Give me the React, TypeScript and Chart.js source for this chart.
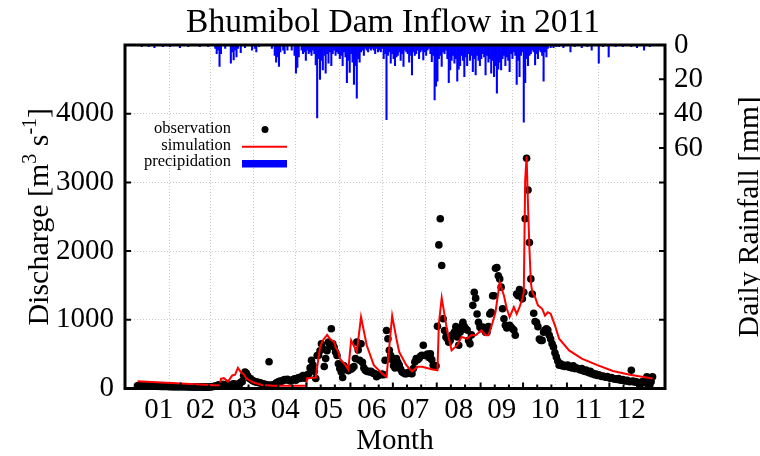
import React, { useEffect, useRef } from 'react';
import { Chart, registerables } from 'chart.js';

Chart.register(...registerables);

const FONT = "'Liberation Serif', 'Times New Roman', serif";

const titleText = 'Bhumibol Dam Inflow in 2011';
const monthLabels = ['01', '02', '03', '04', '05', '06', '07', '08', '09', '10', '11', '12'];
const monthLengths = [31, 28, 31, 30, 31, 30, 31, 31, 30, 31, 30, 31];
const dischargeTicks = [0, 1000, 2000, 3000, 4000];
const rainTicks = [0, 20, 40, 60];
const legendLabels = ['observation', 'simulation', 'precipidation'];

// Observed daily discharge (m3/s), one value per day of each month
const obsJan = [40, 39, 38, 38, 37, 36, 36, 35, 35, 34, 34, 33, 33, 32, 32, 31, 31, 30, 30, 30, 29, 29, 28, 28, 28, 27, 27, 27, 26, 26, 26];
const obsFeb = [26, 25, 25, 25, 24, 24, 24, 23, 23, 23, 22, 22, 22, 22, 21, 21, 21, 20, 20, 20, 22, 25, 28, 30, 35, 40, 50, 55];
const obsMar = [55, 60, 50, 45, 60, 65, 55, 50, 60, 70, 60, 55, 65, 60, 90, 100, 190, 240, 220, 180, 150, 140, 120, 110, 100, 95, 90, 85, 80, 72, 65];
const obsApr = [60, 55, 50, 390, 50, 45, 50, 60, 80, 90, 100, 110, 105, 120, 130, 125, 135, 120, 110, 115, 130, 140, 120, 150, 160, 145, 170, 190, 150, 180];
const obsMay = [200, 210, 300, 410, 340, 250, 145, 480, 485, 550, 650, 580, 320, 435, 550, 675, 620, 870, 650, 600, 530, 480, 360, 290, 240, 160, 330, 280, 290, 260, 290];
const obsJun = [280, 300, 320, 435, 675, 560, 410, 650, 380, 300, 265, 250, 250, 240, 250, 230, 220, 210, 170, 190, 200, 200, 210, 200, 410, 845, 725, 555, 480, 420];
const obsJul = [330, 300, 435, 380, 340, 280, 240, 230, 215, 215, 230, 240, 220, 215, 290, 385, 435, 420, 435, 470, 485, 630, 480, 485, 500, 450, 505, 420, 340, 330, 330];
const obsAug = [905, 2090, 2470, 1790, 1015, 845, 750, 725, 675, 700, 775, 780, 820, 900, 750, 630, 820, 900, 965, 900, 870, 850, 700, 650, 780, 1210, 1400, 1315, 1085, 965, 895];
const obsSep = [870, 895, 870, 820, 820, 900, 1085, 1110, 1350, 1350, 1750, 1760, 1640, 1595, 1475, 1160, 1015, 920, 880, 900, 920, 895, 870, 850, 775, 1375, 1350, 1440, 1380, 1305];
const obsOct = [1400, 2470, 3350, 2890, 2125, 1595, 1375, 1095, 975, 960, 900, 720, 700, 700, 820, 850, 870, 850, 775, 720, 650, 605, 520, 460, 400, 340, 360, 330, 340, 320, 330];
const obsNov = [340, 310, 320, 300, 330, 290, 300, 290, 280, 270, 290, 260, 250, 270, 240, 230, 250, 215, 220, 200, 210, 190, 200, 185, 175, 180, 170, 165, 175, 160];
const obsDec = [150, 160, 145, 140, 135, 130, 145, 125, 120, 130, 115, 110, 120, 105, 100, 265, 110, 95, 100, 90, 80, 48, 90, 100, 85, 120, 170, 60, 48, 100, 170];

// Simulated discharge: vertices of the polyline (day of year, m3/s)
const simDays = [0, 58, 59, 61, 64, 67, 69, 71, 73, 75, 77, 82, 88, 96, 119, 120, 126, 129, 131, 134, 136, 139, 140, 142, 143, 147, 149, 151, 155, 158, 162, 167, 173, 176, 180, 183, 185, 190, 194, 198, 201, 208, 212, 213, 215, 219, 222, 226, 229, 233, 236, 239, 243, 246, 248, 251, 253, 256, 259, 261, 263, 266, 268, 270, 272, 273, 274, 275, 276, 277, 278, 279, 281, 283, 286, 288, 290, 292, 295, 298, 305, 314, 325, 336, 348, 364];
const simValues = [105, 45, 140, 150, 100, 190, 200, 300, 240, 210, 145, 87, 50, 40, 40, 150, 160, 600, 700, 780, 725, 675, 600, 530, 435, 340, 275, 700, 535, 1040, 630, 340, 215, 170, 1060, 725, 530, 340, 250, 315, 315, 280, 265, 940, 1320, 825, 555, 630, 750, 725, 780, 775, 845, 775, 775, 965, 1110, 1545, 1350, 1160, 1040, 1185, 1085, 1185, 1305, 1400, 3040, 3380, 2660, 2030, 1545, 1400, 1330, 1210, 1160, 1060, 1110, 1090, 920, 725, 555, 435, 340, 255, 200, 145];

// Daily rainfall (day of year, mm) on rainy days
const rainDays = [3, 8, 12, 18, 23, 30, 36, 44, 50, 55, 56, 57, 58, 59, 62, 66, 67, 68, 69, 70, 71, 73, 76, 81, 83, 84, 86, 95, 97, 98, 99, 100, 101, 103, 104, 106, 109, 111, 112, 113, 114, 116, 117, 118, 119, 120, 121, 122, 123, 124, 125, 126, 127, 128, 129, 130, 131, 132, 133, 134, 135, 136, 137, 138, 139, 140, 141, 142, 143, 144, 145, 146, 147, 148, 149, 150, 151, 152, 153, 154, 155, 156, 157, 158, 159, 160, 161, 162, 163, 164, 165, 166, 167, 168, 169, 170, 171, 172, 173, 174, 175, 176, 177, 178, 179, 180, 181, 182, 183, 184, 185, 186, 187, 188, 189, 190, 191, 192, 193, 194, 195, 196, 197, 198, 199, 200, 201, 202, 203, 204, 205, 206, 207, 208, 209, 210, 211, 212, 213, 214, 215, 216, 217, 218, 219, 220, 221, 222, 223, 224, 225, 226, 227, 228, 229, 230, 231, 232, 233, 234, 235, 236, 237, 238, 239, 240, 241, 242, 243, 244, 245, 246, 247, 248, 249, 250, 251, 252, 253, 254, 255, 256, 257, 258, 259, 260, 261, 262, 263, 264, 265, 266, 267, 268, 269, 270, 271, 272, 273, 274, 275, 276, 277, 278, 279, 280, 281, 282, 283, 284, 285, 286, 287, 288, 289, 290, 292, 294, 296, 298, 301, 306, 309, 314, 318, 321, 326, 329, 333, 338, 343, 349, 353, 358, 362];
const rainMm = [1, 1, 1.5, 1, 1, 1.5, 1, 1, 1, 2, 5, 3, 12.5, 5, 2, 10.6, 4, 8.7, 3, 7, 2, 4.5, 1.5, 3, 2, 4, 1, 2, 6, 10, 7, 12.5, 4, 3, 5, 3, 3, 6, 16.4, 13, 7, 3, 5, 4, 9, 3, 5, 4, 6, 3, 5, 11.6, 42.5, 8, 20, 9, 14.5, 6, 16.4, 5, 10.6, 4, 12, 5, 3, 6, 4, 5, 8, 6, 12, 4, 7, 22, 9, 16, 5, 10, 23, 12, 31, 8, 10, 4, 3, 6, 2, 3, 4, 2, 3, 2, 3, 5, 2, 4, 3, 4, 2, 8, 5, 43.5, 6, 4, 10.6, 5, 8, 12, 7, 6, 4, 9, 5, 12.5, 3, 4, 5, 10, 6, 17.4, 4, 6, 5, 3, 8, 4, 3, 8.7, 4, 6, 3, 2, 5, 9.7, 6, 32, 24, 21, 8, 6, 12.5, 4, 5, 3, 8, 22, 14.5, 9, 6, 10.6, 8, 21, 14, 12, 6, 9, 18.4, 7, 12, 5, 9, 6, 15.5, 8, 17.4, 6, 9, 12, 8, 5, 7, 17.4, 6, 10, 8, 16.4, 9, 18.4, 12, 28, 14, 10, 14.5, 8, 6, 12, 7, 9, 15.5, 5, 8, 4, 6, 23, 9, 18.4, 6, 4, 45, 22, 8, 12, 6, 5, 3, 4, 11.6, 5, 8, 3, 4, 6, 21, 4, 7, 2, 1.5, 1.5, 1, 1, 1.5, 4, 1, 1.5, 1, 3, 10.6, 1, 7, 1, 1, 1, 1.5, 3, 1];

const obsAll = [...obsJan, ...obsFeb, ...obsMar, ...obsApr, ...obsMay, ...obsJun, ...obsJul, ...obsAug, ...obsSep, ...obsOct, ...obsNov, ...obsDec];

const monthStarts: number[] = [];
monthLengths.reduce((acc, len) => { monthStarts.push(acc); return acc + len; }, 0);
const boundaryValues = monthStarts.slice(1).map((s) => s - 0.5);
const midValues = monthStarts.map((s, i) => s + monthLengths[i] / 2 - 0.5);
const minorValues: number[] = [];
monthStarts.forEach((s) => { minorValues.push(s + 9.5, s + 19.5); });

export default function App() {
  const canvasRef = useRef<HTMLCanvasElement | null>(null);

  useEffect(() => {
    const canvas = canvasRef.current;
    if (!canvas) return;

    const decor = {
      id: 'decor',
      afterDraw(chart: any) {
        const { ctx, chartArea: a, scales } = chart;
        const y = scales.y;
        const rain = scales.rain;
        const x = scales.x;
        ctx.save();
        // inward ticks
        ctx.strokeStyle = '#000';
        ctx.lineWidth = 2;
        ctx.beginPath();
        dischargeTicks.slice(1).forEach((v) => {
          const py = y.getPixelForValue(v);
          ctx.moveTo(a.left, py); ctx.lineTo(a.left + 6, py);
          ctx.moveTo(a.right - 6, py); ctx.lineTo(a.right, py);
        });
        rainTicks.slice(1).forEach((v) => {
          const py = rain.getPixelForValue(v);
          ctx.moveTo(a.right - 6, py); ctx.lineTo(a.right, py);
        });
        boundaryValues.forEach((v) => {
          const px = x.getPixelForValue(v);
          ctx.moveTo(px, a.bottom); ctx.lineTo(px, a.bottom - 6);
        });
        minorValues.forEach((v) => {
          const px = x.getPixelForValue(v);
          ctx.moveTo(px, a.bottom); ctx.lineTo(px, a.bottom - 4);
        });
        ctx.stroke();
        // frame
        ctx.lineWidth = 3;
        ctx.strokeRect(a.left, a.top, a.right - a.left, a.bottom - a.top);

        // title
        ctx.fillStyle = '#000';
        ctx.font = `33.5px ${FONT}`;
        ctx.textAlign = 'center';
        ctx.textBaseline = 'alphabetic';
        ctx.fillText(titleText, 393, 32);

        // left axis title with superscripts
        const midY = (a.top + a.bottom) / 2;
        const mainF = `30px ${FONT}`;
        const supF = `20px ${FONT}`;
        const parts: [string, boolean][] = [['Discharge [m', false], ['3', true], [' s', false], ['-1', true], [']', false]];
        let total = 0;
        parts.forEach(([t, sup]) => { ctx.font = sup ? supF : mainF; total += ctx.measureText(t).width; });
        ctx.save();
        ctx.translate(48, midY);
        ctx.rotate(-Math.PI / 2);
        ctx.fillStyle = '#000';
        ctx.textBaseline = 'alphabetic';
        ctx.textAlign = 'left';
        let cx = -total / 2;
        parts.forEach(([t, sup]) => {
          ctx.font = sup ? supF : mainF;
          ctx.fillText(t, cx, sup ? -12 : 0);
          cx += ctx.measureText(t).width;
        });
        ctx.restore();

        // right axis title
        ctx.save();
        ctx.translate(758, midY);
        ctx.rotate(-Math.PI / 2);
        ctx.font = `29.5px ${FONT}`;
        ctx.fillStyle = '#000';
        ctx.textAlign = 'center';
        ctx.textBaseline = 'alphabetic';
        ctx.fillText('Daily Rainfall [mm]', 0, 0);
        ctx.restore();

        // legend
        ctx.font = `16.5px ${FONT}`;
        ctx.fillStyle = '#000';
        ctx.textAlign = 'right';
        ctx.textBaseline = 'middle';
        const rows = [129, 145.5, 162];
        legendLabels.forEach((t, i) => ctx.fillText(t, 231, rows[i]));
        ctx.beginPath();
        ctx.arc(265, 129.5, 3.5, 0, Math.PI * 2);
        ctx.fill();
        ctx.strokeStyle = 'rgb(255,0,0)';
        ctx.lineWidth = 2;
        ctx.beginPath();
        ctx.moveTo(242, 146.7); ctx.lineTo(287, 146.7);
        ctx.stroke();
        ctx.fillStyle = 'rgb(0,0,255)';
        ctx.fillRect(242, 160, 45, 7.5);
        ctx.restore();
      },
    };

    const tickFont = { family: FONT, size: 29, weight: 'normal' as const };

    const chart = new Chart(canvas, {
      type: 'scatter',
      data: {
        datasets: [
          {
            type: 'line',
            label: 'simulation',
            data: simDays.map((d, i) => ({ x: d, y: simValues[i] })),
            borderColor: 'rgb(255,0,0)',
            borderWidth: 2,
            pointRadius: 0,
            fill: false,
            tension: 0,
            yAxisID: 'y',
            xAxisID: 'x',
            order: 0,
          },
          {
            type: 'scatter',
            label: 'observation',
            data: obsAll.map((v, i) => ({ x: i, y: v })),
            backgroundColor: '#000',
            borderColor: '#000',
            borderWidth: 0,
            pointRadius: 3.8,
            clip: 8,
            yAxisID: 'y',
            xAxisID: 'x',
            order: 1,
          },
          {
            type: 'bar',
            label: 'precipidation',
            data: rainDays.map((d, i) => ({ x: d, y: rainMm[i] })),
            backgroundColor: 'rgb(0,0,255)',
            borderWidth: 0,
            barPercentage: 1,
            categoryPercentage: 1,
            yAxisID: 'rain',
            xAxisID: 'x',
            order: 2,
          } as any,
        ],
      },
      options: {
        responsive: false,
        animation: false,
        layout: { padding: { top: 45, left: 0, right: 0, bottom: 0 } },
        plugins: {
          legend: { display: false },
          tooltip: { enabled: false },
          title: { display: false },
        },
        scales: {
          x: {
            type: 'linear',
            position: 'bottom',
            min: -0.5,
            max: 364.5,
            afterBuildTicks: (s: any) => {
              s.ticks = [...boundaryValues, ...midValues].sort((p, q) => p - q).map((v) => ({ value: v }));
            },
            afterFit: (s: any) => { s.height = 67.5; },
            ticks: {
              autoSkip: false,
              maxRotation: 0,
              minRotation: 0,
              padding: 4,
              color: '#000',
              font: tickFont,
              callback: (v: any) => {
                const idx = midValues.indexOf(Number(v));
                return idx >= 0 ? monthLabels[idx] : '';
              },
            },
            grid: {
              drawTicks: false,
              lineWidth: 1,
              color: (c: any) => (c.tick && boundaryValues.indexOf(c.tick.value) >= 0 ? '#c8c8c8' : 'rgba(0,0,0,0)'),
            },
            border: { display: false, dash: [1, 2] },
            title: {
              display: true,
              text: 'Month',
              color: '#000',
              font: { family: FONT, size: 29, weight: 'normal', lineHeight: 1 },
              padding: { top: 0, bottom: 0 },
            },
          },
          y: {
            type: 'linear',
            position: 'left',
            min: 0,
            max: 5000,
            afterBuildTicks: (s: any) => { s.ticks = dischargeTicks.map((v) => ({ value: v })); },
            afterFit: (s: any) => { s.width = 125; },
            ticks: { padding: 11, color: '#000', font: tickFont, callback: (v: any) => String(v) },
            grid: {
              drawTicks: false,
              lineWidth: 1,
              color: (c: any) => (c.tick && c.tick.value === 0 ? 'rgba(0,0,0,0)' : '#c8c8c8'),
            },
            border: { display: false, dash: [1, 2] },
          },
          rain: {
            type: 'linear',
            position: 'right',
            min: 0,
            max: 200,
            reverse: true,
            afterBuildTicks: (s: any) => { s.ticks = rainTicks.map((v) => ({ value: v })); },
            afterFit: (s: any) => { s.width = 95; },
            ticks: { padding: 9, color: '#000', font: tickFont, callback: (v: any) => String(v) },
            grid: { display: false, drawTicks: false },
            border: { display: false },
          },
        },
      } as any,
      plugins: [decor],
    });

    return () => chart.destroy();
  }, []);

  return (
    <div style={{ position: 'absolute', left: 0, top: 0, width: 760, height: 456, background: '#fff' }}>
      <canvas ref={canvasRef} width={760} height={456} />
    </div>
  );
}
